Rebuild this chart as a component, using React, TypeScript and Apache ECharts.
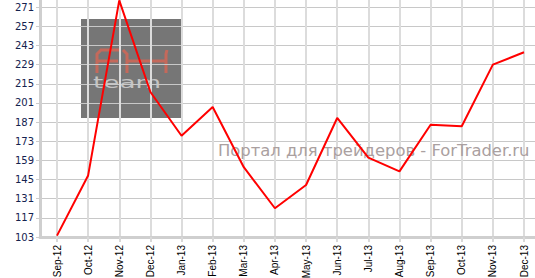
import React, { useEffect, useRef } from "react";
import * as echarts from "echarts";

const categories = [
  "Sep-12", "Oct-12", "Nov-12", "Dec-12", "Jan-13", "Feb-13", "Mar-13", "Apr-13",
  "May-13", "Jun-13", "Jul-13", "Aug-13", "Sep-13", "Oct-13", "Nov-13", "Dec-13",
];
const values = [104, 148, 276, 209, 177, 198, 154, 124, 141, 190, 161, 151, 185, 184, 229, 238];
const yMin = 103;
const yMax = 285;
const yStep = 14;
const watermarkText = "Портал для трейдеров - ForTrader.ru";
const logoTop = "team";

export default function App() {
  const ref = useRef<HTMLDivElement>(null);
  useEffect(() => {
    if (!ref.current) return;
    const chart = echarts.init(ref.current, null, { renderer: "svg" });
    const salmon = "#c4695b";
    chart.setOption({
      animation: false,
      backgroundColor: "#ffffff",
      grid: [
        { left: 40, right: 0, top: -12, bottom: 41, outerBoundsMode: "none", containLabel: false },
        { left: 57, right: 11, top: -12, bottom: 41, outerBoundsMode: "none", containLabel: false },
      ],
      xAxis: [
        {
          gridIndex: 0,
          type: "value",
          min: 0,
          max: 1,
          axisLine: { show: true, lineStyle: { color: "#cfcfcf", width: 3 } },
          axisTick: { show: false },
          axisLabel: { show: false },
          splitLine: { show: false },
        },
        {
          gridIndex: 1,
          type: "category",
          boundaryGap: false,
          data: categories,
          axisLine: { show: false },
          axisTick: { show: true, length: 5, lineStyle: { color: "#d8d8d8", width: 2 } },
          axisLabel: {
            rotate: 90,
            fontSize: 10,
            color: "#000",
            fontFamily: "Liberation Sans, Arial, sans-serif",
            margin: 8,
            interval: 0,
          },
          splitLine: { show: true, lineStyle: { color: "#dcdcdc", width: 2 } },
        },
      ],
      yAxis: [
        {
          gridIndex: 0,
          type: "value",
          min: yMin,
          max: yMax,
          interval: yStep,
          axisLine: { show: true, lineStyle: { color: "#cfcfcf", width: 3 } },
          axisTick: { show: true, length: 4, lineStyle: { color: "#cccccc" } },
          axisLabel: {
            fontSize: 10,
            color: "#14224f",
            fontFamily: "DejaVu Sans, Verdana, sans-serif",
            margin: 6,
            showMaxLabel: false,
          },
          splitLine: { show: true, lineStyle: { color: "#c8c8c8", width: 1 } },
        },
        {
          gridIndex: 1,
          type: "value",
          min: yMin,
          max: yMax,
          interval: yStep,
          show: false,
          splitLine: { show: false },
        },
      ],
      graphic: [
        { type: "rect", z: -10, shape: { x: 81, y: 19, width: 100, height: 99 }, style: { fill: "#767676" } },
        { type: "polyline", z: -9, shape: { points: [[97, 73], [97, 54], [101, 50], [120, 50]] }, style: { stroke: salmon, lineWidth: 3, fill: null } },
        { type: "line", z: -9, shape: { x1: 97, y1: 61, x2: 118, y2: 61 }, style: { stroke: salmon, lineWidth: 3 } },
        { type: "polyline", z: -9, shape: { points: [[123, 50], [127, 54], [127, 73]] }, style: { stroke: salmon, lineWidth: 3, fill: null } },
        { type: "polyline", z: -9, shape: { points: [[167, 50], [166, 54], [166, 73]] }, style: { stroke: salmon, lineWidth: 3, fill: null } },
        { type: "line", z: -9, shape: { x1: 127, y1: 61, x2: 166, y2: 61 }, style: { stroke: salmon, lineWidth: 3 } },
        {
          type: "text", z: -9, x: 93, y: 75, scaleX: 1.75,
          style: { text: logoTop, fill: "#c4c4c4", font: "15px DejaVu Sans", textVerticalAlign: "top" },
        },
        {
          type: "text", z: 1, x: 218, y: 150,
          style: {
            text: watermarkText, fill: "#aaa0a0",
            font: "16.4px DejaVu Sans", textVerticalAlign: "middle",
          },
        },
      ],
      series: [
        {
          type: "line",
          xAxisIndex: 1,
          yAxisIndex: 1,
          data: values,
          showSymbol: false,
          symbol: "none",
          lineStyle: { color: "#ff0000", width: 2 },
          z: 5,
        },
      ],
    });
    return () => chart.dispose();
  }, []);
  return <div ref={ref} style={{ position: "fixed", left: 0, top: 0, width: 535, height: 278 }} />;
}
